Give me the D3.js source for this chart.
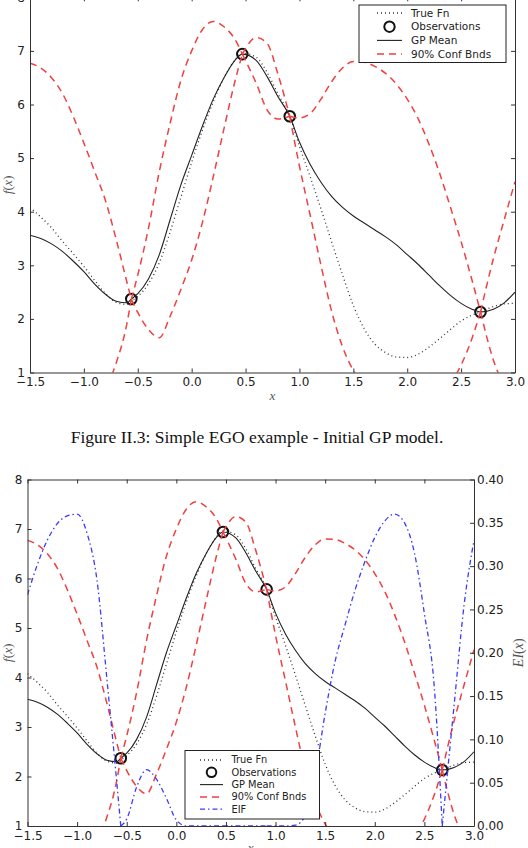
<!DOCTYPE html>
<html>
<head>
<meta charset="utf-8">
<script src="https://cdn.jsdelivr.net/npm/d3@7"></script>
<style>
  body { margin: 0; background: #fff; }
  svg { display: block; font-family: "DejaVu Sans", sans-serif; }
</style>
</head>
<body>
<svg width="528" height="848"></svg>
<script>
// x grid (observation points included, so the bounds pinch there)
const xs = [-1.5, -1.4, -1.3, -1.2, -1.1, -1.0, -0.9, -0.8, -0.7, -0.6, -0.56,
  -0.5, -0.4, -0.3, -0.2, -0.1, 0.0, 0.1, 0.2, 0.3, 0.4, 0.47,
  0.6, 0.7, 0.8, 0.91, 1.0, 1.1, 1.2, 1.3, 1.4, 1.5, 1.6, 1.7, 1.8, 1.9,
  2.0, 2.1, 2.2, 2.3, 2.4, 2.5, 2.6, 2.68, 2.8, 2.9, 3.0];

const trueFn = [4.08, 3.90, 3.70, 3.45, 3.22, 2.98, 2.72, 2.47, 2.31, 2.27, 2.33,
  2.42, 2.66, 3.05, 3.62, 4.27, 4.92, 5.52, 6.05, 6.50, 6.83, 6.96,
  6.88, 6.60, 6.20, 5.78, 5.22, 4.65, 4.05, 3.43, 2.82, 2.25, 1.82, 1.53, 1.37, 1.29,
  1.28, 1.34, 1.47, 1.63, 1.80, 1.96, 2.07, 2.13, 2.23, 2.28, 2.29];

const gpMean = [3.56, 3.50, 3.40, 3.26, 3.08, 2.88, 2.65, 2.46, 2.33, 2.30, 2.37,
  2.47, 2.75, 3.20, 3.85, 4.50, 5.05, 5.60, 6.10, 6.50, 6.82, 6.94,
  6.82, 6.52, 6.15, 5.78, 5.30, 4.88, 4.55, 4.28, 4.08, 3.92, 3.79, 3.66, 3.53, 3.38,
  3.20, 3.02, 2.82, 2.62, 2.44, 2.29, 2.18, 2.13, 2.18, 2.30, 2.50];

const upperBnd = [6.77, 6.68, 6.50, 6.21, 5.78, 5.28, 4.75, 4.21, 3.48, 2.68, 2.37,
  2.82, 3.70, 4.75, 5.65, 6.45, 7.00, 7.40, 7.55, 7.45, 7.22, 6.94,
  7.25, 7.14, 6.57, 5.78, 5.75, 5.83, 6.10, 6.43, 6.68, 6.80, 6.79, 6.71, 6.58, 6.38,
  6.10, 5.74, 5.27, 4.72, 4.09, 3.44, 2.73, 2.13, 3.13, 3.85, 4.56];

const lowerBnd = [0.35, 0.32, 0.30, 0.31, 0.38, 0.48, 0.55, 0.71, 1.18, 1.92, 2.37,
  2.12, 1.80, 1.65, 2.05, 2.55, 3.10, 3.80, 4.65, 5.55, 6.42, 6.94,
  6.39, 5.90, 5.73, 5.78, 4.85, 3.93, 3.00, 2.13, 1.48, 1.04, 0.79, 0.61, 0.48, 0.38,
  0.30, 0.30, 0.37, 0.52, 0.79, 1.14, 1.63, 2.13, 1.23, 0.75, 0.44];

const eif = [0.267, 0.302, 0.330, 0.349, 0.358, 0.360, 0.338, 0.284, 0.170, 0.050, 0.0,
  0.008, 0.045, 0.065, 0.054, 0.032, 0.007, 0.0, 0.0, 0.0, 0.0, 0.0,
  0.0, 0.0, 0.0, 0.0, 0.0, 0.0, 0.001, 0.012, 0.060, 0.130, 0.190, 0.232, 0.272, 0.305,
  0.333, 0.352, 0.360, 0.350, 0.315, 0.245, 0.160, 0.0, 0.140, 0.255, 0.330];

const obsX = [-0.56, 0.47, 0.91, 2.68];
const obsY = [2.37, 6.94, 5.78, 2.13];

const xTicks = [-1.5, -1.0, -0.5, 0.0, 0.5, 1.0, 1.5, 2.0, 2.5, 3.0];
const yTicks = [1, 2, 3, 4, 5, 6, 7, 8];
const eiTicks = [0, 0.05, 0.10, 0.15, 0.20, 0.25, 0.30, 0.35, 0.40];

const legendTop = ["True Fn", "Observations", "GP Mean", "90% Conf Bnds"];
const legendBottom = ["True Fn", "Observations", "GP Mean", "90% Conf Bnds", "EIF"];
const caption = "Figure II.3: Simple EGO example - Initial GP model.";

const svg = d3.select("svg");

const styles = {
  "True Fn": {stroke: "#333", width: 1.3, dash: "1,3"},
  "GP Mean": {stroke: "#222", width: 1.1, dash: null},
  "90% Conf Bnds": {stroke: "#f04040", width: 1.5, dash: "7,5"},
  "EIF": {stroke: "#3a3aff", width: 1.3, dash: "5,3,1.5,3"}
};

// cut a series into pieces that end on observation points
function splitAtObs(vals) {
  const segs = [];
  let cur = [];
  xs.forEach((x, i) => {
    cur.push([x, vals[i]]);
    if (obsX.includes(x) && cur.length > 1) {
      segs.push(cur);
      cur = [[x, vals[i]]];
    }
  });
  if (cur.length > 1) segs.push(cur);
  return segs;
}

function drawSegs(g, segs, line, st) {
  segs.forEach(seg => {
    g.append("path")
      .attr("d", line(seg))
      .attr("fill", "none")
      .attr("stroke", st.stroke)
      .attr("stroke-width", st.width)
      .attr("stroke-dasharray", st.dash);
  });
}

function styleAxis(g) {
  g.select(".domain").attr("stroke", "#333");
  g.selectAll(".tick line").attr("stroke", "#333");
  g.selectAll(".tick text").attr("fill", "#222").style("font-size", "12px")
    .style("font-family", "'DejaVu Sans', sans-serif");
}

function mathLabel(transform, parts, size) {
  const t = svg.append("text")
    .attr("transform", transform)
    .attr("text-anchor", "middle")
    .style("font-family", "'Liberation Serif', serif")
    .style("font-size", size + "px")
    .attr("fill", "#555");
  parts.forEach(p => {
    t.append("tspan").style("font-style", p[1] ? "italic" : "normal").text(p[0]);
  });
}

function drawPanel(id, area, withEI, legendLabels, leg) {
  const scX = d3.scaleLinear().domain([-1.5, 3.0]).range([area.left, area.right]);
  const scY = d3.scaleLinear().domain([1, 8]).range([area.bottom, area.top]);
  const scEI = d3.scaleLinear().domain([0, 0.4]).range([area.bottom, area.top]);

  svg.append("clipPath").attr("id", id)
    .append("rect")
    .attr("x", area.left).attr("y", area.top)
    .attr("width", area.right - area.left).attr("height", area.bottom - area.top);

  const g = svg.append("g").attr("clip-path", `url(#${id})`);
  const line = d3.line().x(d => scX(d[0])).y(d => scY(d[1])).curve(d3.curveMonotoneX);
  const lineEI = d3.line().x(d => scX(d[0])).y(d => scEI(d[1])).curve(d3.curveMonotoneX);

  drawSegs(g, [xs.map((x, i) => [x, trueFn[i]])], line, styles["True Fn"]);
  g.selectAll(".obs")
    .data(obsX.map((x, i) => [x, obsY[i]]))
    .enter()
    .append("circle")
    .attr("cx", d => scX(d[0]))
    .attr("cy", d => scY(d[1]))
    .attr("r", 5.3)
    .attr("fill", "none")
    .attr("stroke", "#111")
    .attr("stroke-width", 2);
  drawSegs(g, [xs.map((x, i) => [x, gpMean[i]])], line, styles["GP Mean"]);
  drawSegs(g, splitAtObs(upperBnd), line, styles["90% Conf Bnds"]);
  drawSegs(g, splitAtObs(lowerBnd), line, styles["90% Conf Bnds"]);
  if (withEI) {
    drawSegs(g, splitAtObs(eif), lineEI, styles["EIF"]);
  }

  // axes, ticks pointing inwards on all four sides
  svg.append("g")
    .attr("transform", `translate(0, ${area.bottom})`)
    .call(d3.axisBottom(scX).tickValues(xTicks).tickFormat(d3.format(".1f"))
      .tickSizeInner(-4).tickSizeOuter(0).tickPadding(5))
    .call(styleAxis);
  svg.append("g")
    .attr("transform", `translate(0, ${area.top})`)
    .call(d3.axisTop(scX).tickValues(xTicks).tickFormat("")
      .tickSizeInner(-4).tickSizeOuter(0))
    .call(styleAxis);
  svg.append("g")
    .attr("transform", `translate(${area.left}, 0)`)
    .call(d3.axisLeft(scY).tickValues(yTicks).tickFormat(d3.format("d"))
      .tickSizeInner(-4).tickSizeOuter(0).tickPadding(5))
    .call(styleAxis);
  const right = withEI
    ? d3.axisRight(scEI).tickValues(eiTicks).tickFormat(d3.format(".2f")).tickPadding(3)
    : d3.axisRight(scY).tickValues(yTicks).tickFormat("");
  svg.append("g")
    .attr("transform", `translate(${area.right}, 0)`)
    .call(right.tickSizeInner(-4).tickSizeOuter(0))
    .call(styleAxis);

  // axis labels
  const mid = (area.top + area.bottom) / 2;
  mathLabel(`translate(${(area.left + area.right) / 2}, ${area.xLabelY})`, [["x", true]], 13);
  mathLabel(`translate(12, ${mid}) rotate(-90)`,
    [["f", true], ["(", false], ["x", true], [")", false]], 13.5);
  if (withEI) {
    mathLabel(`translate(523, ${mid}) rotate(-90)`,
      [["EI", true], ["(", false], ["x", true], [")", false]], 14);
  }

  // legend
  const lg = svg.append("g").attr("transform", `translate(${leg.x}, ${leg.y})`);
  lg.append("rect")
    .attr("width", leg.w).attr("height", leg.h)
    .attr("fill", "#fff").attr("stroke", "#222").attr("stroke-width", 1);
  legendLabels.forEach((label, i) => {
    const y = leg.row0 + i * leg.step;
    if (label === "Observations") {
      lg.append("circle")
        .attr("cx", (leg.h0 + leg.h1) / 2).attr("cy", y).attr("r", leg.r)
        .attr("fill", "none").attr("stroke", "#111").attr("stroke-width", 2);
    } else {
      const st = styles[label];
      lg.append("line")
        .attr("x1", leg.h0).attr("x2", leg.h1).attr("y1", y).attr("y2", y)
        .attr("stroke", st.stroke).attr("stroke-width", st.width)
        .attr("stroke-dasharray", st.dash);
    }
    lg.append("text")
      .attr("x", leg.tx).attr("y", y).attr("dy", "0.35em")
      .style("font-size", leg.font + "px")
      .attr("fill", "#222")
      .text(label);
  });
}

drawPanel("clipTop", {left: 30, right: 515, top: -2.7, bottom: 372.5, xLabelY: 400},
  false, legendTop,
  {x: 359, y: 5, w: 147, h: 57.5, row0: 8, step: 13.7, h0: 18, h1: 43, tx: 52, font: 10.5, r: 5.2});

drawPanel("clipBottom", {left: 27.5, right: 474, top: 479.5, bottom: 826, xLabelY: 852},
  true, legendBottom,
  {x: 185, y: 750.5, w: 134.5, h: 68.5, row0: 9.5, step: 12.3, h0: 15, h1: 38, tx: 46.5, font: 9.8, r: 4.8});

svg.append("text")
  .attr("x", 257)
  .attr("y", 442.5)
  .attr("text-anchor", "middle")
  .style("font-family", "'Liberation Serif', serif")
  .style("font-size", "17.5px")
  .attr("fill", "#111")
  .text(caption);
</script>
</body>
</html>
